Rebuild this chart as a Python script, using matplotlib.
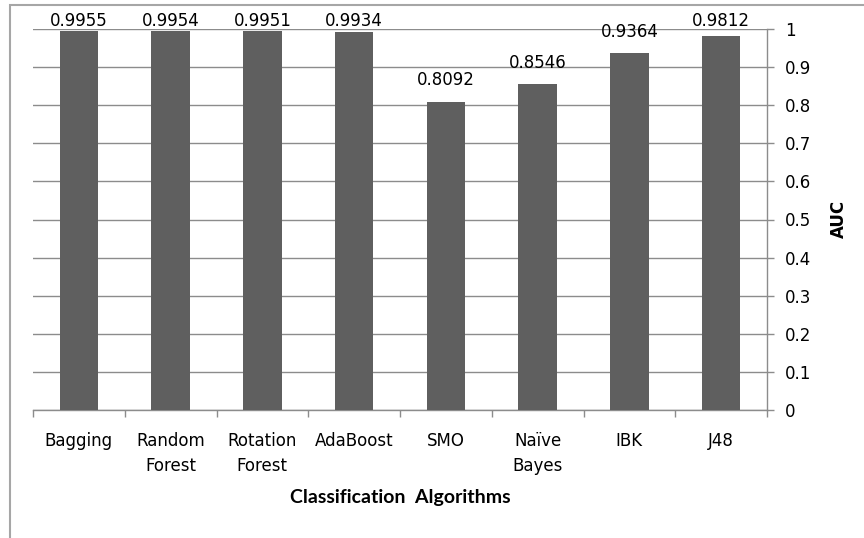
import numpy as np
import matplotlib.pyplot as plt
from matplotlib.patches import Rectangle

# AUC per classifier
algorithms = ['Bagging', 'Random\nForest', 'Rotation\nForest', 'AdaBoost',
              'SMO', 'Naïve\nBayes', 'IBK', 'J48']
auc = [0.9955, 0.9954, 0.9951, 0.9934, 0.8092, 0.8546, 0.9364, 0.9812]
yticks = [0, 0.1, 0.2, 0.3, 0.4, 0.5, 0.6, 0.7, 0.8, 0.9, 1]

bar_color = '#5f5f5f'
grid_color = '#8c8c8c'

fig = plt.figure(figsize=(8.64, 5.38), dpi=100)
ax = fig.add_axes([33 / 864, 1 - 410 / 538, (767 - 33) / 864, (410 - 29) / 538])

x = np.arange(len(algorithms))
ax.bar(x, auc, width=0.42, color=bar_color, zorder=3)

# value labels, kept inside the plot area like Excel does
for xi, v in zip(x, auc):
    ax.text(xi, min(v + 0.057, 1.02), f'{v:.4f}', ha='center', va='center',
            fontsize=12, color='black', zorder=4)

ax.set_xlim(-0.5, len(algorithms) - 0.5)
ax.set_ylim(0, 1)
ax.set_yticks(yticks)
ax.set_yticklabels([f'{t:g}' for t in yticks], fontsize=12)
ax.yaxis.tick_right()
ax.tick_params(axis='y', direction='out', length=5, width=1, color=grid_color, pad=8)
ax.grid(axis='y', color=grid_color, linewidth=1, zorder=0)

ax.set_xticks(x)
ax.set_xticklabels(algorithms, fontsize=12, linespacing=1.45)
ax.set_xticks(np.arange(len(algorithms) + 1) - 0.5, minor=True)
ax.tick_params(axis='x', which='major', length=0, pad=16)
ax.tick_params(axis='x', which='minor', direction='out', length=5, width=1, color=grid_color)

for s in ['top', 'left']:
    ax.spines[s].set_visible(False)
for s in ['right', 'bottom']:
    ax.spines[s].set_color(grid_color)
    ax.spines[s].set_linewidth(1)

fig.text(839 / 864, 1 - 219 / 538, 'AUC', rotation=90, ha='center', va='center',
         fontsize=12, fontweight='bold')
fig.text(400 / 864, 1 - 498 / 538, 'Classification  Algorithms', ha='center', va='center',
         fontsize=14, fontweight='bold', family='Lato')

# chart frame
fig.patches.append(Rectangle((10 / 864, -0.1), 1.1, 1 - 5 / 538 + 0.1, transform=fig.transFigure,
                             fill=False, edgecolor='#a6a6a6', linewidth=1.5))

fig.savefig('out.png', dpi=100)
